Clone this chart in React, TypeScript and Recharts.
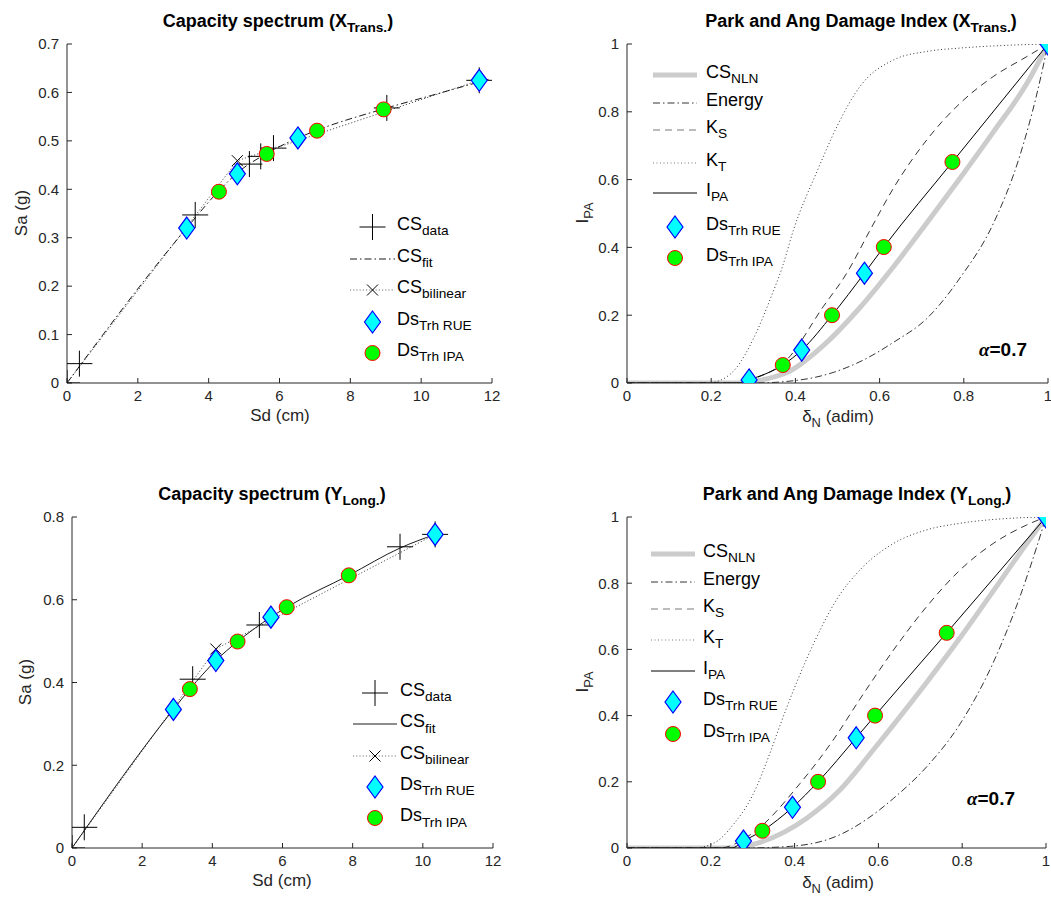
import React from 'react'
import { ComposedChart, Line, Scatter, XAxis, YAxis } from 'recharts'

type Pt = { x: number; y: number }

// ---- Capacity spectrum (X Trans.) : Sd (cm) vs Sa (g)
const csDataX: Pt[] = [
  { x: 0, y: 0 }, { x: 0.35, y: 0.04 }, { x: 3.62, y: 0.347 }, { x: 5.15, y: 0.452 },
  { x: 5.47, y: 0.468 }, { x: 5.83, y: 0.485 }, { x: 9.03, y: 0.568 }, { x: 11.64, y: 0.625 },
]
const csFitX: Pt[] = [
  { x: 0, y: 0 }, { x: 3.38, y: 0.32 }, { x: 4.29, y: 0.397 }, { x: 4.81, y: 0.434 },
  { x: 5.64, y: 0.474 }, { x: 6.52, y: 0.506 }, { x: 7.06, y: 0.522 }, { x: 8.94, y: 0.566 },
  { x: 10.3, y: 0.594 }, { x: 11.9, y: 0.627 },
]
const csBilinearX: Pt[] = [{ x: 0, y: 0 }, { x: 4.81, y: 0.459 }, { x: 11.64, y: 0.625 }]
const csYieldX: Pt[] = [{ x: 4.81, y: 0.459 }]
const dsRueX: Pt[] = [{ x: 3.38, y: 0.32 }, { x: 4.81, y: 0.432 }, { x: 6.52, y: 0.506 }, { x: 11.64, y: 0.625 }]
const dsIpaX: Pt[] = [{ x: 4.29, y: 0.395 }, { x: 5.64, y: 0.473 }, { x: 7.06, y: 0.521 }, { x: 8.94, y: 0.565 }]

// ---- Capacity spectrum (Y Long.)
const csDataY: Pt[] = [
  { x: 0, y: 0 }, { x: 0.35, y: 0.05 }, { x: 3.44, y: 0.408 }, { x: 5.34, y: 0.539 },
  { x: 9.35, y: 0.728 }, { x: 10.35, y: 0.758 },
]
const csFitY: Pt[] = [
  { x: 0, y: 0 }, { x: 2.89, y: 0.335 }, { x: 3.36, y: 0.384 }, { x: 4.1, y: 0.453 },
  { x: 4.72, y: 0.499 }, { x: 5.67, y: 0.558 }, { x: 6.12, y: 0.582 }, { x: 7.89, y: 0.659 },
  { x: 9.35, y: 0.725 }, { x: 10.35, y: 0.758 },
]
const csBilinearY: Pt[] = [{ x: 0, y: 0 }, { x: 4.1, y: 0.481 }, { x: 10.35, y: 0.758 }]
const csYieldY: Pt[] = [{ x: 4.1, y: 0.481 }]
const dsRueY: Pt[] = [{ x: 2.89, y: 0.335 }, { x: 4.1, y: 0.453 }, { x: 5.67, y: 0.558 }, { x: 10.35, y: 0.758 }]
const dsIpaY: Pt[] = [{ x: 3.36, y: 0.384 }, { x: 4.72, y: 0.499 }, { x: 6.12, y: 0.582 }, { x: 7.89, y: 0.659 }]

// ---- Park and Ang damage index (X Trans.) : delta_N vs I_PA
const nlnX: Pt[] = [
  { x: 0, y: 0 }, { x: 0.28, y: 0 }, { x: 0.308, y: 0.006 }, { x: 0.387, y: 0.035 }, { x: 0.466, y: 0.11 },
  { x: 0.553, y: 0.222 }, { x: 0.633, y: 0.343 }, { x: 0.712, y: 0.472 }, { x: 0.791, y: 0.604 },
  { x: 0.87, y: 0.74 }, { x: 0.95, y: 0.884 }, { x: 1, y: 1 },
]
const energyX: Pt[] = [
  { x: 0, y: 0 }, { x: 0.3, y: 0 }, { x: 0.411, y: 0.009 }, { x: 0.506, y: 0.038 }, { x: 0.565, y: 0.07 },
  { x: 0.633, y: 0.12 }, { x: 0.712, y: 0.19 }, { x: 0.791, y: 0.31 }, { x: 0.87, y: 0.47 },
  { x: 0.933, y: 0.67 }, { x: 0.973, y: 0.85 }, { x: 1, y: 1 },
]
const ksX: Pt[] = [
  { x: 0, y: 0 }, { x: 0.27, y: 0 }, { x: 0.3, y: 0.012 }, { x: 0.379, y: 0.068 }, { x: 0.466, y: 0.225 },
  { x: 0.522, y: 0.324 }, { x: 0.577, y: 0.45 }, { x: 0.633, y: 0.575 }, { x: 0.712, y: 0.717 },
  { x: 0.791, y: 0.825 }, { x: 0.87, y: 0.904 }, { x: 0.95, y: 0.963 }, { x: 1, y: 1 },
]
const ktX: Pt[] = [
  { x: 0, y: 0 }, { x: 0.19, y: 0 }, { x: 0.225, y: 0.01 }, { x: 0.26, y: 0.045 }, { x: 0.3, y: 0.13 },
  { x: 0.341, y: 0.25 }, { x: 0.371, y: 0.35 }, { x: 0.395, y: 0.45 }, { x: 0.45, y: 0.62 },
  { x: 0.5, y: 0.76 }, { x: 0.553, y: 0.874 }, { x: 0.633, y: 0.953 }, { x: 0.712, y: 0.978 },
  { x: 0.791, y: 0.988 }, { x: 0.9, y: 0.996 }, { x: 1, y: 1 },
]
const ipaX: Pt[] = [
  { x: 0, y: 0 }, { x: 0.27, y: 0 }, { x: 0.29, y: 0.009 }, { x: 0.37, y: 0.053 }, { x: 0.415, y: 0.097 },
  { x: 0.487, y: 0.2 }, { x: 0.564, y: 0.324 }, { x: 0.61, y: 0.401 }, { x: 0.773, y: 0.652 }, { x: 1, y: 1 },
]
const paRueX: Pt[] = [{ x: 0.29, y: 0.009 }, { x: 0.415, y: 0.097 }, { x: 0.564, y: 0.324 }, { x: 1, y: 1 }]
const paIpaX: Pt[] = [{ x: 0.37, y: 0.053 }, { x: 0.487, y: 0.2 }, { x: 0.61, y: 0.401 }, { x: 0.773, y: 0.652 }]

// ---- Park and Ang damage index (Y Long.)
const nlnY: Pt[] = [
  { x: 0, y: 0 }, { x: 0.26, y: 0 }, { x: 0.31, y: 0.014 }, { x: 0.429, y: 0.09 }, { x: 0.508, y: 0.175 },
  { x: 0.592, y: 0.303 }, { x: 0.636, y: 0.372 }, { x: 0.715, y: 0.5 }, { x: 0.795, y: 0.635 },
  { x: 0.874, y: 0.776 }, { x: 0.954, y: 0.92 }, { x: 1, y: 1 },
]
const energyY: Pt[] = [
  { x: 0, y: 0 }, { x: 0.28, y: 0 }, { x: 0.39, y: 0.005 }, { x: 0.508, y: 0.04 }, { x: 0.57, y: 0.085 },
  { x: 0.636, y: 0.15 }, { x: 0.715, y: 0.245 }, { x: 0.795, y: 0.375 }, { x: 0.874, y: 0.56 },
  { x: 0.938, y: 0.76 }, { x: 0.978, y: 0.91 }, { x: 1, y: 1 },
]
const ksY: Pt[] = [
  { x: 0, y: 0 }, { x: 0.22, y: 0 }, { x: 0.3, y: 0.045 }, { x: 0.413, y: 0.195 }, { x: 0.492, y: 0.326 },
  { x: 0.556, y: 0.45 }, { x: 0.636, y: 0.598 }, { x: 0.715, y: 0.729 }, { x: 0.795, y: 0.84 },
  { x: 0.874, y: 0.92 }, { x: 0.954, y: 0.976 }, { x: 1, y: 1 },
]
const ktY: Pt[] = [
  { x: 0, y: 0 }, { x: 0.16, y: 0 }, { x: 0.19, y: 0.006 }, { x: 0.22, y: 0.025 }, { x: 0.25, y: 0.065 },
  { x: 0.3, y: 0.16 }, { x: 0.341, y: 0.286 }, { x: 0.365, y: 0.37 }, { x: 0.45, y: 0.63 },
  { x: 0.5, y: 0.75 }, { x: 0.556, y: 0.84 }, { x: 0.636, y: 0.92 }, { x: 0.715, y: 0.961 },
  { x: 0.795, y: 0.981 }, { x: 0.914, y: 0.996 }, { x: 1, y: 1 },
]
const ipaY: Pt[] = [
  { x: 0, y: 0 }, { x: 0.25, y: 0 }, { x: 0.278, y: 0.021 }, { x: 0.323, y: 0.052 }, { x: 0.395, y: 0.123 },
  { x: 0.456, y: 0.2 }, { x: 0.547, y: 0.333 }, { x: 0.592, y: 0.4 }, { x: 0.763, y: 0.65 }, { x: 1, y: 1 },
]
const paRueY: Pt[] = [{ x: 0.278, y: 0.021 }, { x: 0.395, y: 0.123 }, { x: 0.547, y: 0.333 }, { x: 1, y: 1 }]
const paIpaY: Pt[] = [{ x: 0.323, y: 0.052 }, { x: 0.456, y: 0.2 }, { x: 0.592, y: 0.4 }, { x: 0.763, y: 0.65 }]

// ticks
const sdTicks = [0, 2, 4, 6, 8, 10, 12]
const saTicksX = [0, 0.1, 0.2, 0.3, 0.4, 0.5, 0.6, 0.7]
const saTicksY = [0, 0.2, 0.4, 0.6, 0.8]
const unitTicks = [0, 0.2, 0.4, 0.6, 0.8, 1]

const FONT = '"Liberation Sans", Arial, Helvetica, sans-serif'
const AX = '#262626'
const DASHDOT = '7 3 1.5 3'
const DASHED = '7 5'
const DOTTED = '1 2.5'

// marker shapes
const plusMark = (cx: number, cy: number) => (
  <g stroke="#000" strokeWidth={1}>
    <line x1={cx - 13} y1={cy} x2={cx + 13} y2={cy} />
    <line x1={cx} y1={cy - 13} x2={cx} y2={cy + 13} />
  </g>
)
const crossMark = (cx: number, cy: number) => (
  <g stroke="#000" strokeWidth={1}>
    <line x1={cx - 5.5} y1={cy - 5.5} x2={cx + 5.5} y2={cy + 5.5} />
    <line x1={cx - 5.5} y1={cy + 5.5} x2={cx + 5.5} y2={cy - 5.5} />
  </g>
)
const diamondMark = (cx: number, cy: number) => (
  <polygon points={`${cx},${cy - 11} ${cx + 8},${cy} ${cx},${cy + 11} ${cx - 8},${cy}`}
    fill="#00ffff" stroke="#0000ff" strokeWidth={1.2} />
)
const circleMark = (cx: number, cy: number) => (
  <circle cx={cx} cy={cy} r={7.5} fill="#00ff00" stroke="#ff0000" strokeWidth={1} />
)

const PlusShape = (p: any) => plusMark(p.cx, p.cy)
const CrossShape = (p: any) => crossMark(p.cx, p.cy)
const DiamondShape = (p: any) => diamondMark(p.cx, p.cy)
const CircleShape = (p: any) => circleMark(p.cx, p.cy)

const Sub = ({ children }: { children: React.ReactNode }) => (
  <span style={{ fontSize: '0.76em', position: 'relative', top: '0.4em' }}>{children}</span>
)

function Txt({ x, y, size = 17, bold = false, rotate = false, color = AX, children }: any) {
  return (
    <div style={{
      position: 'absolute', left: x, top: y,
      transform: `translate(-50%, -50%)${rotate ? ' rotate(-90deg)' : ''}`,
      fontSize: size, fontWeight: bold ? 'bold' : 'normal', fontFamily: FONT,
      color, whiteSpace: 'nowrap', lineHeight: 1,
    }}>{children}</div>
  )
}

type Row = { y: number; line?: { stroke: string; width: number; dash?: string }; mark?: string; label: React.ReactNode }

function LegendBox({ x1, x2, textX, rows }: { x1: number; x2: number; textX: number; rows: Row[] }) {
  const mid = (x2 - x1) / 2
  return (
    <>
      {rows.map((r, i) => (
        <React.Fragment key={i}>
          <svg style={{ position: 'absolute', left: x1, top: r.y - 14, overflow: 'visible' }}
            width={x2 - x1} height={28}>
            {r.line && <line x1={0} y1={14} x2={x2 - x1} y2={14} stroke={r.line.stroke}
              strokeWidth={r.line.width} strokeDasharray={r.line.dash} />}
            {r.mark === 'plus' && plusMark(mid, 14)}
            {r.mark === 'cross' && crossMark(mid, 14)}
            {r.mark === 'diamond' && diamondMark(mid, 14)}
            {r.mark === 'circle' && circleMark(mid, 14)}
          </svg>
          <div style={{
            position: 'absolute', left: textX, top: r.y - 3, transform: 'translateY(-50%)',
            fontSize: 18, fontFamily: FONT, color: '#000', whiteSpace: 'nowrap', lineHeight: 1,
          }}>{r.label}</div>
        </React.Fragment>
      ))}
    </>
  )
}

function Panel({ left, top, right, bottom, xDomain, yDomain, xTicks, yTicks, children }: any) {
  const plotW = right - left
  const plotH = bottom - top
  const corners = [{ x: xDomain[0], y: yDomain[0] }, { x: xDomain[1], y: yDomain[1] }]
  const tickStyle = { fill: AX, fontSize: 15, fontFamily: FONT }
  return (
    <div style={{ position: 'absolute', left: left - 60, top: top - 10 }}>
      <ComposedChart width={plotW + 70} height={plotH + 40}
        margin={{ top: 10, right: 10, bottom: 0, left: 0 }}>
        <XAxis type="number" dataKey="x" domain={xDomain} ticks={xTicks} interval={0}
          allowDataOverflow height={30} tickSize={-5} tickMargin={12}
          stroke={AX} tick={tickStyle} />
        <YAxis type="number" dataKey="y" domain={yDomain} ticks={yTicks} interval={0}
          allowDataOverflow width={60} tickSize={-5} tickMargin={13}
          stroke={AX} tick={tickStyle} />
        <XAxis xAxisId="t" orientation="top" type="number" dataKey="x" domain={xDomain}
          ticks={xTicks} interval={0} allowDataOverflow height={0} tickSize={-5}
          stroke={AX} tick={false} />
        <YAxis yAxisId="r" orientation="right" type="number" dataKey="y" domain={yDomain}
          ticks={yTicks} interval={0} allowDataOverflow width={0} tickSize={-5}
          stroke={AX} tick={false} />
        <Line xAxisId="t" yAxisId="r" data={corners} dataKey="y" stroke="none" dot={false}
          isAnimationActive={false} />
        {children}
      </ComposedChart>
    </div>
  )
}

function capacitySeries(fit: Pt[], fitDash: string | undefined, bil: Pt[], yld: Pt[], data: Pt[], rue: Pt[], ipa: Pt[]) {
  return [
    <Line key="bil" data={bil} dataKey="y" type="linear" stroke="#555" strokeWidth={1}
      strokeDasharray="1.2 2" dot={false} isAnimationActive={false} />,
    <Line key="fit" data={fit} dataKey="y" type="monotone" stroke="#000" strokeWidth={0.9}
      strokeDasharray={fitDash} dot={false} isAnimationActive={false} />,
    <Scatter key="yld" data={yld} dataKey="y" shape={CrossShape} isAnimationActive={false} />,
    <Scatter key="data" data={data} dataKey="y" shape={PlusShape} isAnimationActive={false} />,
    <Scatter key="rue" data={rue} dataKey="y" shape={DiamondShape} isAnimationActive={false} />,
    <Scatter key="ipa" data={ipa} dataKey="y" shape={CircleShape} isAnimationActive={false} />,
  ]
}

function damageSeries(nln: Pt[], en: Pt[], ks: Pt[], kt: Pt[], ipa: Pt[], rue: Pt[], ipaPts: Pt[]) {
  return [
    <Line key="nln" data={nln} dataKey="y" type="monotone" stroke="#cccccc" strokeWidth={5}
      dot={false} isAnimationActive={false} />,
    <Line key="en" data={en} dataKey="y" type="monotone" stroke="#000" strokeWidth={0.8}
      strokeDasharray={DASHDOT} dot={false} isAnimationActive={false} />,
    <Line key="ks" data={ks} dataKey="y" type="monotone" stroke="#000" strokeWidth={0.8}
      strokeDasharray={DASHED} dot={false} isAnimationActive={false} />,
    <Line key="kt" data={kt} dataKey="y" type="monotone" stroke="#000" strokeWidth={0.8}
      strokeDasharray={DOTTED} dot={false} isAnimationActive={false} />,
    <Line key="ipa" data={ipa} dataKey="y" type="monotone" stroke="#000" strokeWidth={1}
      dot={false} isAnimationActive={false} />,
    <Scatter key="rue" data={rue} dataKey="y" shape={DiamondShape} isAnimationActive={false} />,
    <Scatter key="pts" data={ipaPts} dataKey="y" shape={CircleShape} isAnimationActive={false} />,
  ]
}

const capRows = (fitDash: string | undefined, y0: number, step: number): Row[] => [
  { y: y0, mark: 'plus', label: <>CS<Sub>data</Sub></> },
  { y: y0 + step, line: { stroke: '#000', width: 0.9, dash: fitDash }, label: <>CS<Sub>fit</Sub></> },
  { y: y0 + 2 * step, line: { stroke: '#777', width: 1, dash: '1.2 2' }, mark: 'cross', label: <>CS<Sub>bilinear</Sub></> },
  { y: y0 + 3 * step, mark: 'diamond', label: <>Ds<Sub>Trh RUE</Sub></> },
  { y: y0 + 4 * step, mark: 'circle', label: <>Ds<Sub>Trh IPA</Sub></> },
]

const dmgRows = (ys: number[]): Row[] => [
  { y: ys[0], line: { stroke: '#cccccc', width: 5 }, label: <>CS<Sub>NLN</Sub></> },
  { y: ys[1], line: { stroke: '#000', width: 0.8, dash: DASHDOT }, label: <>Energy</> },
  { y: ys[2], line: { stroke: '#555', width: 0.8, dash: DASHED }, label: <>K<Sub>S</Sub></> },
  { y: ys[3], line: { stroke: '#555', width: 0.8, dash: DOTTED }, label: <>K<Sub>T</Sub></> },
  { y: ys[4], line: { stroke: '#000', width: 1 }, label: <>I<Sub>PA</Sub></> },
  { y: ys[5], mark: 'diamond', label: <>Ds<Sub>Trh RUE</Sub></> },
  { y: ys[6], mark: 'circle', label: <>Ds<Sub>Trh IPA</Sub></> },
]

const Alpha = () => (
  <><span style={{ fontFamily: '"Liberation Serif", serif', fontStyle: 'italic' }}>α</span>=0.7</>
)

export default function App() {
  return (
    <div style={{ position: 'absolute', left: 0, top: 0, width: 1051, height: 906, overflow: 'hidden', background: '#fff', fontFamily: FONT }}>
      {/* top left */}
      <Panel left={67} top={44} right={492} bottom={383} xDomain={[0, 12]} yDomain={[0, 0.7]}
        xTicks={sdTicks} yTicks={saTicksX}>
        {capacitySeries(csFitX, DASHDOT, csBilinearX, csYieldX, csDataX, dsRueX, dsIpaX)}
      </Panel>
      {/* top right */}
      <Panel left={627} top={44} right={1048} bottom={383} xDomain={[0, 1]} yDomain={[0, 1]}
        xTicks={unitTicks} yTicks={unitTicks}>
        {damageSeries(nlnX, energyX, ksX, ktX, ipaX, paRueX, paIpaX)}
      </Panel>
      {/* bottom left */}
      <Panel left={72} top={517} right={493} bottom={848} xDomain={[0, 12]} yDomain={[0, 0.8]}
        xTicks={sdTicks} yTicks={saTicksY}>
        {capacitySeries(csFitY, undefined, csBilinearY, csYieldY, csDataY, dsRueY, dsIpaY)}
      </Panel>
      {/* bottom right */}
      <Panel left={627} top={517} right={1046} bottom={848} xDomain={[0, 1]} yDomain={[0, 1]}
        xTicks={unitTicks} yTicks={unitTicks}>
        {damageSeries(nlnY, energyY, ksY, ktY, ipaY, paRueY, paIpaY)}
      </Panel>

      {/* titles */}
      <Txt x={278} y={21} size={18} bold color="#000">Capacity spectrum (X<Sub>Trans.</Sub>)</Txt>
      <Txt x={861} y={21} size={18} bold color="#000">Park and Ang Damage Index (X<Sub>Trans.</Sub>)</Txt>
      <Txt x={272} y={494} size={18} bold color="#000">Capacity spectrum (Y<Sub>Long.</Sub>)</Txt>
      <Txt x={857} y={494} size={18} bold color="#000">Park and Ang Damage Index (Y<Sub>Long.</Sub>)</Txt>

      {/* axis labels */}
      <Txt x={21} y={213} rotate>Sa (g)</Txt>
      <Txt x={280} y={415}>Sd (cm)</Txt>
      <Txt x={582} y={213} rotate>I<Sub>PA</Sub></Txt>
      <Txt x={838} y={416}>δ<Sub>N</Sub> (adim)</Txt>
      <Txt x={25} y={682} rotate>Sa (g)</Txt>
      <Txt x={282} y={880}>Sd (cm)</Txt>
      <Txt x={582} y={682} rotate>I<Sub>PA</Sub></Txt>
      <Txt x={838} y={882}>δ<Sub>N</Sub> (adim)</Txt>

      {/* alpha annotations */}
      <Txt x={1003} y={349} size={19} bold color="#000"><Alpha /></Txt>
      <Txt x={991} y={798} size={19} bold color="#000"><Alpha /></Txt>

      {/* legends */}
      <LegendBox x1={350} x2={395} textX={397} rows={capRows(DASHDOT, 227, 31.5)} />
      <LegendBox x1={353} x2={397} textX={400} rows={capRows(undefined, 693, 31.3)} />
      <LegendBox x1={653} x2={697} textX={706} rows={dmgRows([75, 103, 130, 163, 193, 227, 258])} />
      <LegendBox x1={651} x2={695} textX={703} rows={dmgRows([554, 582, 609, 640, 671, 702, 734])} />
    </div>
  )
}
